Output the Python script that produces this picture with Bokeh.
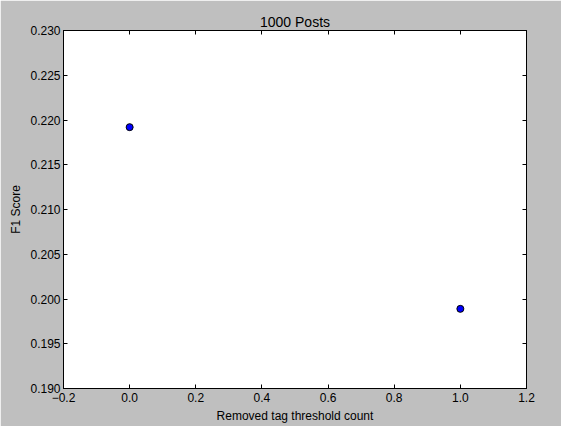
from bokeh.plotting import figure
from bokeh.models import LinearAxis, FixedTicker, CustomJSTickFormatter, Range1d, ColumnDataSource
from bokeh.embed import file_html
from bokeh.resources import INLINE

thresholds = [0, 1]
f1_scores = [0.2192, 0.1989]
x_ticks = [-0.2, 0.0, 0.2, 0.4, 0.6, 0.8, 1.0, 1.2]
y_ticks = [0.190, 0.195, 0.200, 0.205, 0.210, 0.215, 0.220, 0.225, 0.230]

FONT = "Liberation Sans"

p = figure(width=561, height=426, output_backend="svg", toolbar_location=None,
           x_range=Range1d(-0.2, 1.2), y_range=Range1d(0.190, 0.230),
           title="1000 Posts", x_axis_label="Removed tag threshold count",
           y_axis_label="F1 Score")
p.min_border_left = 63
p.min_border_top = 30
p.min_border_right = 35
p.min_border_bottom = 38
p.background_fill_color = "white"
p.border_fill_color = "#bfbfbf"
p.outline_line_color = "black"
p.outline_line_width = 1
p.xgrid.visible = False
p.ygrid.visible = False

p.title.align = "center"
p.title.text_font = FONT
p.title.text_font_size = "14px"
p.title.text_font_style = "normal"
p.title.text_color = "black"
p.title.offset = 0
p.title.standoff = 2

xfmt = CustomJSTickFormatter(code="return tick.toFixed(1).replace('-', '\u2212');")
yfmt = CustomJSTickFormatter(code="return tick.toFixed(3);")
blank = CustomJSTickFormatter(code="return '';")

for ax in p.xaxis:
    ax.ticker = FixedTicker(ticks=x_ticks)
    ax.formatter = xfmt
for ax in p.yaxis:
    ax.ticker = FixedTicker(ticks=y_ticks)
    ax.formatter = yfmt

for ax in p.xaxis + p.yaxis:
    ax.major_tick_in = 4
    ax.major_tick_out = 0
    ax.minor_tick_in = 0
    ax.minor_tick_out = 0
    ax.axis_line_color = "black"
    ax.major_tick_line_color = "black"
    ax.major_label_text_font = FONT
    ax.major_label_text_font_size = "12px"
    ax.major_label_text_color = "black"
    ax.axis_label_text_font = FONT
    ax.axis_label_text_font_size = "12px"
    ax.axis_label_text_font_style = "normal"
    ax.axis_label_text_color = "black"
    ax.major_label_standoff = 4
    ax.axis_label_standoff = 4

p.yaxis.major_label_standoff = 3

top = LinearAxis(ticker=FixedTicker(ticks=x_ticks), formatter=blank,
                 major_tick_in=4, major_tick_out=0, minor_tick_in=0, minor_tick_out=0,
                 axis_line_color="black", major_label_standoff=0)
right = LinearAxis(ticker=FixedTicker(ticks=y_ticks), formatter=blank,
                   major_tick_in=4, major_tick_out=0, minor_tick_in=0, minor_tick_out=0,
                   axis_line_color="black", major_label_standoff=0)
p.add_layout(top, "above")
p.add_layout(right, "right")

src = ColumnDataSource(data=dict(x=thresholds, y=f1_scores))
p.scatter("x", "y", source=src, size=7, fill_color="#0000ff", line_color="black", line_width=1)

open("out.html", "w").write(file_html(p, INLINE))
